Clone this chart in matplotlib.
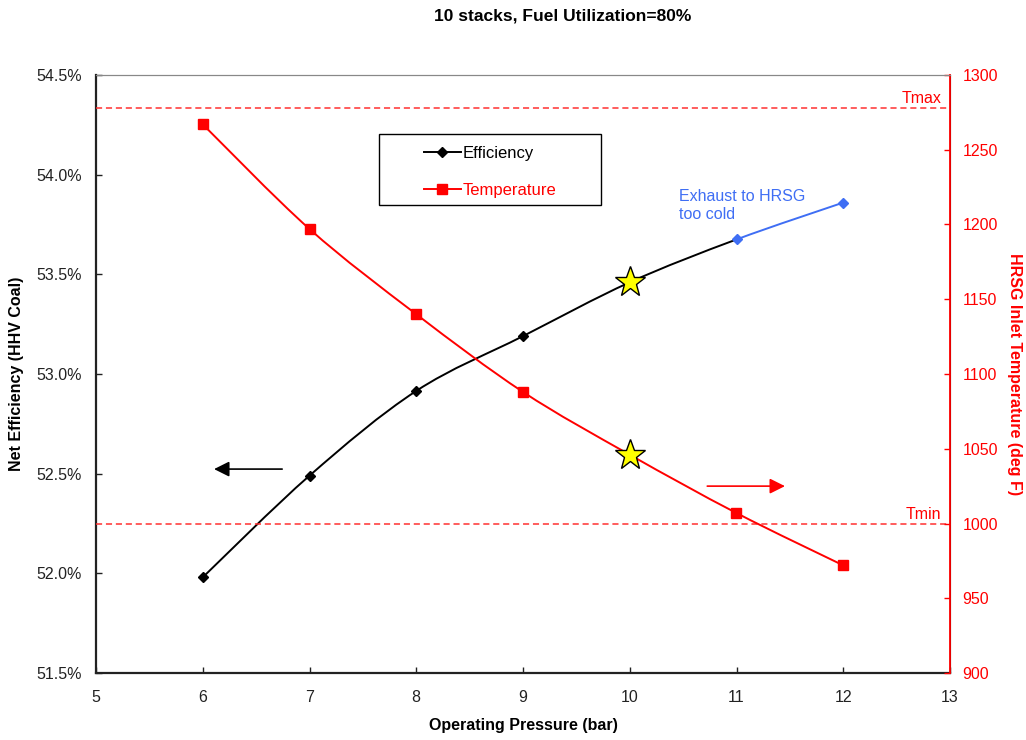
import numpy as np
import matplotlib
matplotlib.use("Agg")
import matplotlib.pyplot as plt
from matplotlib.path import Path
from matplotlib.patches import PathPatch, Rectangle
from matplotlib.lines import Line2D
from matplotlib.ticker import FuncFormatter

plt.rcParams['font.family'] = ['Liberation Sans', 'DejaVu Sans']

# operating pressure (bar)
pressure = [6, 7, 8, 9, 10, 11, 12]
# net efficiency, % HHV coal
efficiency = [51.98, 52.49, 52.915, 53.19, 53.46, 53.675, 53.86]
# HRSG inlet temperature, deg F
temperature = [1267, 1197, 1140, 1088, 1046, 1007, 972]
t_max = 1278
t_min = 1000
design_point = 10
cold_from = 11   # above this pressure the exhaust is too cold

RED = '#FF0000'
BLUE = '#3F6EF4'


def smooth_path(xs, ys, start, stop):
    # Catmull-Rom style bezier through the points, like a spreadsheet "smoothed line"
    pts = np.column_stack([xs, ys]).astype(float)
    n = len(pts)
    verts = [pts[start]]
    codes = [Path.MOVETO]
    for i in range(start, stop):
        p0 = pts[max(i - 1, 0)]
        p1 = pts[i]
        p2 = pts[i + 1]
        p3 = pts[min(i + 2, n - 1)]
        verts += [p1 + (p2 - p0) / 6.0, p2 - (p3 - p1) / 6.0, p2]
        codes += [Path.CURVE4] * 3
    return Path(verts, codes)


fig = plt.figure(figsize=(10.26, 7.40), dpi=100)
ax = fig.add_axes([96 / 1026, 1 - 673 / 740, 854 / 1026, 598 / 740])
ax2 = ax.twinx()

x = np.array(pressure)
eff = np.array(efficiency)
temp = np.array(temperature)
i_cold = pressure.index(cold_from)
i_star = pressure.index(design_point)
normal = [i for i in range(len(x)) if i != i_star]

# efficiency curve
ax.add_patch(PathPatch(smooth_path(x, eff, 0, i_cold), fill=False, edgecolor='black', lw=1.4, zorder=2))
ax.add_patch(PathPatch(smooth_path(x, eff, i_cold, len(x) - 1), fill=False, edgecolor=BLUE, lw=1.4, zorder=2))
for i in normal:
    c = BLUE if x[i] >= cold_from else 'black'
    ax.plot(x[i], eff[i], marker='D', ms=5.5, color=c, ls='none', zorder=3)
ax.plot(x[i_star], eff[i_star], marker='*', ms=23, mfc='#FFFF00', mec='black', mew=1, ls='none', zorder=4)

# temperature curve
ax2.add_patch(PathPatch(smooth_path(x, temp, 0, len(x) - 1), fill=False, edgecolor=RED, lw=1.4, zorder=2))
ax2.plot(x[normal], temp[normal], marker='s', ms=6.5, color=RED, ls='none', zorder=3)
ax2.plot(x[i_star], temp[i_star], marker='*', ms=23, mfc='#FFFF00', mec='black', mew=1, ls='none', zorder=4)

# temperature limits
for t, name in [(t_max, 'Tmax'), (t_min, 'Tmin')]:
    ax2.axhline(t, color='#FF3030', ls=(0, (4, 2.5)), lw=1.1, zorder=1)
    ax2.text(12.92, t + 1, name, color=RED, fontsize=11.5, ha='right', va='bottom')

ax.set_xlim(5, 13)
ax.set_ylim(51.5, 54.5)
ax2.set_ylim(900, 1300)
ax.set_xticks(range(5, 14))
ax.set_yticks(np.arange(51.5, 54.51, 0.5))
ax2.set_yticks(range(900, 1301, 50))
ax.yaxis.set_major_formatter(FuncFormatter(lambda v, p: f'{v:.1f}%'))

ax.tick_params(axis='both', direction='in', length=4, width=1, labelsize=11.5, colors='#222222')
ax.tick_params(axis='x', pad=12)
ax.tick_params(axis='y', pad=10)
ax2.tick_params(axis='y', direction='in', length=4, width=1, labelsize=11.5, colors=RED, pad=9)

ax.spines['left'].set_linewidth(1.6)
ax.spines['bottom'].set_linewidth(1.6)
ax.spines['left'].set_color('#222222')
ax.spines['bottom'].set_color('#222222')
ax.spines['top'].set_color('#888888')
ax2.spines['top'].set_color('#888888')
ax2.spines['right'].set_color(RED)
ax2.spines['right'].set_linewidth(1.3)
ax2.spines['left'].set_visible(False)
ax2.spines['bottom'].set_visible(False)

ax.set_xlabel('Operating Pressure (bar)', fontsize=11.5, fontweight='bold', va='center')
ax.xaxis.set_label_coords(0.5, -0.088)
ax.set_ylabel('Net Efficiency (HHV Coal)', fontsize=11.5, fontweight='bold', va='center')
ax.yaxis.set_label_coords(-0.093, 0.5)
ax2.set_ylabel('HRSG Inlet Temperature (deg F)', fontsize=11.5, fontweight='bold', color=RED,
               rotation=270, va='center')
ax2.yaxis.set_label_coords(1.076, 0.5)

fig.text(563 / 1026, 1 - 16 / 740, '10 stacks, Fuel Utilization=80%', fontsize=12.5,
         fontweight='bold', ha='center', va='center')

# direction arrows pointing at each axis
ax.annotate('', xy=(6.08, 52.523), xytext=(6.77, 52.523),
            arrowprops=dict(arrowstyle='-|>', color='black', lw=1.2, mutation_scale=23))
ax2.annotate('', xy=(11.48, 1025), xytext=(10.7, 1025),
             arrowprops=dict(arrowstyle='-|>', color=RED, lw=1.2, mutation_scale=23))

ax.text(10.46, 53.93, 'Exhaust to HRSG\ntoo cold', color=BLUE, fontsize=11.5,
        ha='left', va='top', linespacing=1.25)

# legend with a plain square box
ax2.add_patch(Rectangle((0.331, 0.783), 0.26, 0.118, transform=ax2.transAxes,
                        fill=True, facecolor='white', edgecolor='black', lw=1, zorder=5))
handles = [Line2D([], [], color='black', marker='D', ms=5.5, lw=1.4),
           Line2D([], [], color=RED, marker='s', ms=6.5, lw=1.4)]
leg = ax2.legend(handles, ['Efficiency', 'Temperature'], loc='upper left',
                 bbox_to_anchor=(0.384, 0.881), frameon=False, borderpad=0, borderaxespad=0,
                 handlelength=2.2, handletextpad=0.15, labelspacing=1.32, fontsize=12)
leg.set_zorder(6)
leg.get_texts()[1].set_color(RED)

fig.savefig('out.png', dpi=100)
